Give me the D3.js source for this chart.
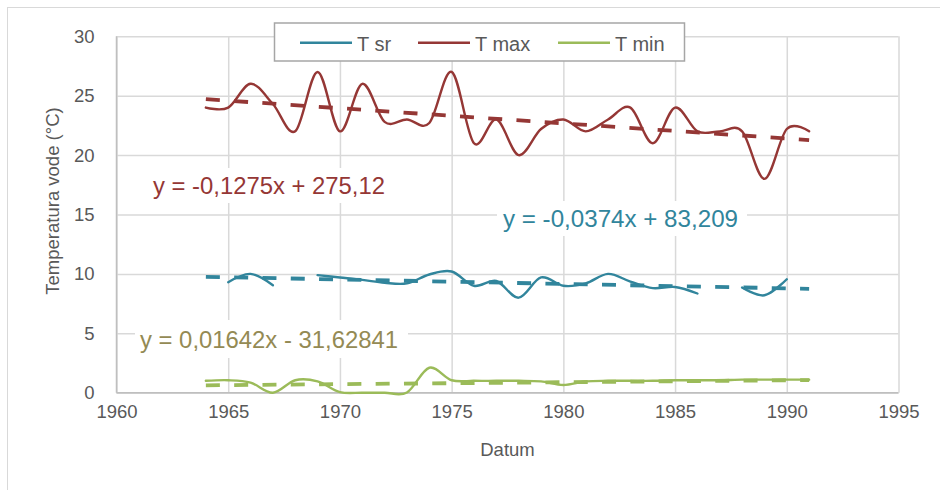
<!DOCTYPE html>
<html>
<head>
<meta charset="utf-8">
<script src="https://cdn.jsdelivr.net/npm/d3@7"></script>
<style>
  html, body { margin: 0; padding: 0; background: #fff; }
  svg { display: block; }
  text { font-family: "Liberation Sans", Arial, sans-serif; }
</style>
</head>
<body>
<svg id="chart" width="940" height="490"></svg>
<script>
// ---- data ----
const years = [1964,1965,1966,1967,1968,1969,1970,1971,1972,1973,1974,1975,1976,1977,
               1978,1979,1980,1981,1982,1983,1984,1985,1986,1987,1988,1989,1990,1991];
const tSr  = [null,9.3,10.0,9.05,null,9.9,9.7,9.5,9.25,9.2,9.95,10.2,9.0,9.4,
              8.0,9.7,9.0,9.2,10.0,9.35,8.8,8.9,8.35,null,8.85,8.2,9.55,null];
const tMax = [24,24,26,24.3,22,27,22,26,22.8,23,22.7,27,21,23,
              20,22.2,23,22,23,24,21,24,22,22,22,18,22.2,22];
const tMin = [1.0,1.05,0.85,0.0,1.05,0.95,0.05,0,0,0.02,2.1,1.05,1.0,1.0,
              1.0,0.95,0.65,0.95,1.0,1.0,1.0,1.05,1.05,1.05,1.1,1.1,1.1,1.1];
// trend line coefficients as shown on the chart: [slope, intercept]
const trendSr  = [-0.0374, 83.209];
const trendMax = [-0.1275, 275.12];
const trendMin = [0.01642, -31.62841];
const trendLabels = ["y = -0,0374x + 83,209", "y = -0,1275x + 275,12", "y = 0,01642x - 31,62841"];
const seriesNames = ["T sr", "T max", "T min"];
const xTicks = [1960,1965,1970,1975,1980,1985,1990,1995];
const yTicks = [0,5,10,15,20,25,30];

// ---- drawing ----
const svg = d3.select("#chart");
const colors = ["#31859C", "#953735", "#9BBB59"];
const labelColors = ["#31859C", "#953735", "#948A54"];

svg.append("rect").attr("x",7.5).attr("y",7.5).attr("width",940).attr("height",490)
  .attr("fill","#fff").attr("stroke","#d9d9d9").attr("stroke-width",1);

const x = d3.scaleLinear().domain([1960,1995]).range([116.5, 898.5]);
const y = d3.scaleLinear().domain([0,30]).range([392.7, 36.3]);

// gridlines
const gx = svg.append("g").attr("transform",`translate(0,${y(0)})`)
  .call(d3.axisBottom(x).tickValues(xTicks).tickSize(-(y(0)-y(30))).tickFormat(d3.format("d")).tickPadding(12));
gx.select(".domain").remove();
gx.selectAll(".tick line").attr("stroke","#d9d9d9").attr("stroke-width",1.5);
gx.selectAll(".tick text").attr("fill","#595959").style("font-size","18.5px")
  .attr("font-family","Liberation Sans, Arial, sans-serif");

const gy = svg.append("g").attr("transform",`translate(${x(1960)},0)`)
  .call(d3.axisLeft(y).tickValues(yTicks).tickSize(-(x(1995)-x(1960))).tickPadding(22));
gy.select(".domain").remove();
gy.selectAll(".tick line").attr("stroke","#d9d9d9").attr("stroke-width",1.5);
gy.selectAll(".tick text").attr("fill","#595959").style("font-size","18.5px")
  .attr("font-family","Liberation Sans, Arial, sans-serif");

// axis lines
svg.append("line").attr("x1",x(1960)).attr("x2",x(1995)).attr("y1",y(0)).attr("y2",y(0))
  .attr("stroke","#bfbfbf").attr("stroke-width",1.5);
svg.append("line").attr("x1",x(1960)).attr("x2",x(1960)).attr("y1",y(0)).attr("y2",y(30))
  .attr("stroke","#bfbfbf").attr("stroke-width",1.5);

// axis titles
svg.append("text").attr("x",(x(1960)+x(1995))/2).attr("y",456).attr("text-anchor","middle")
  .attr("fill","#595959").style("font-size","18.5px").text("Datum");
svg.append("text").attr("transform","translate(59,201) rotate(-90)").attr("text-anchor","middle")
  .attr("fill","#595959").style("font-size","18.5px").text("Temperatura vode (°C)");

// series
const allSeries = [tSr, tMax, tMin];
const line = d3.line()
  .defined(d => d[1] !== null)
  .x(d => x(d[0])).y(d => y(d[1]))
  .curve(d3.curveCardinal.tension(0));

allSeries.forEach((vals, i) => {
  svg.append("path")
    .attr("d", line(years.map((yr, j) => [yr, vals[j]])))
    .attr("fill","none").attr("stroke",colors[i]).attr("stroke-width",2.4)
    .attr("stroke-linejoin","round").attr("stroke-linecap","round");
});

// trend lines
const trends = [trendSr, trendMax, trendMin];
const yrFirst = years[0], yrLast = years[years.length-1];
trends.forEach((t, i) => {
  const pts = [yrFirst, yrLast].map(yr => [yr, t[0]*yr + t[1]]);
  svg.append("path")
    .attr("d", d3.line().x(d => x(d[0])).y(d => y(d[1]))(pts))
    .attr("fill","none").attr("stroke",colors[i]).attr("stroke-width",3.8)
    .attr("stroke-dasharray","14,14.3");
});

// trend labels with white boxes
const labelPos = [
  {x:503, y:227, w:235, box:[497,201,250,35]},
  {x:153, y:194, w:232, box:[146,168,248,35]},
  {x:140, y:347.5, w:258, box:[135,320,273,38]}
];
[0,1,2].forEach(i => {
  const p = labelPos[i];
  svg.append("rect").attr("x",p.box[0]).attr("y",p.box[1]).attr("width",p.box[2]).attr("height",p.box[3])
    .attr("fill","#fff");
  svg.append("text").attr("x",p.x).attr("y",p.y).attr("fill",labelColors[i])
    .attr("textLength",p.w).attr("lengthAdjust","spacingAndGlyphs")
    .style("font-size","23px").text(trendLabels[i]);
});

// legend
const lg = svg.append("g");
lg.append("rect").attr("x",274.5).attr("y",23).attr("width",410).attr("height",38)
  .attr("fill","#fff").attr("stroke","#a6a6a6").attr("stroke-width",1.5);
const legX = [300, 418, 558];
seriesNames.forEach((n, i) => {
  lg.append("line").attr("x1",legX[i]).attr("x2",legX[i]+52).attr("y1",42.7).attr("y2",42.7)
    .attr("stroke",colors[i]).attr("stroke-width",2.4);
  lg.append("text").attr("x",legX[i]+57).attr("y",50.5).attr("fill","#595959")
    .style("font-size","20px").text(n);
});
</script>
</body>
</html>
